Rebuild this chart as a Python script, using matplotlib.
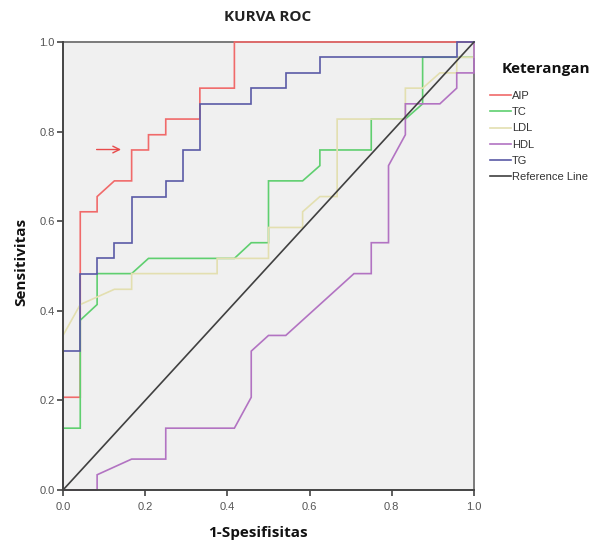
import matplotlib
matplotlib.use("Agg")
import matplotlib.pyplot as plt

# ---- data ----
aip_x = [0, 0, 0.042, 0.042, 0.083, 0.083, 0.125, 0.167, 0.167, 0.208, 0.208, 0.250, 0.250, 0.333, 0.333, 0.417, 0.417, 1.0]
aip_y = [0, 0.207, 0.207, 0.621, 0.621, 0.655, 0.690, 0.690, 0.759, 0.759, 0.793, 0.793, 0.828, 0.828, 0.897, 0.897, 1.0, 1.0]

tc_x = [0, 0, 0.042, 0.042, 0.083, 0.083, 0.167, 0.208, 0.375, 0.417, 0.458, 0.500, 0.500, 0.583, 0.625, 0.625, 0.750, 0.750, 0.833, 0.875, 0.875, 1.0, 1.0]
tc_y = [0, 0.138, 0.138, 0.379, 0.414, 0.483, 0.483, 0.517, 0.517, 0.517, 0.552, 0.552, 0.690, 0.690, 0.724, 0.759, 0.759, 0.828, 0.828, 0.862, 0.966, 0.966, 1.0]

ldl_x = [0, 0, 0.042, 0.125, 0.167, 0.167, 0.375, 0.375, 0.500, 0.500, 0.583, 0.583, 0.625, 0.667, 0.667, 0.833, 0.833, 0.875, 0.917, 0.958, 0.958, 1.0, 1.0]
ldl_y = [0, 0.345, 0.414, 0.448, 0.448, 0.483, 0.483, 0.517, 0.517, 0.586, 0.586, 0.621, 0.655, 0.655, 0.828, 0.828, 0.897, 0.897, 0.931, 0.931, 0.966, 0.966, 1.0]

hdl_x = [0, 0.083, 0.083, 0.167, 0.250, 0.250, 0.417, 0.458, 0.458, 0.500, 0.542, 0.708, 0.750, 0.750, 0.792, 0.792, 0.833, 0.833, 0.917, 0.958, 0.958, 1.0, 1.0]
hdl_y = [0, 0, 0.034, 0.069, 0.069, 0.138, 0.138, 0.207, 0.310, 0.345, 0.345, 0.483, 0.483, 0.552, 0.552, 0.724, 0.793, 0.862, 0.862, 0.897, 0.931, 0.931, 1.0]

tg_x = [0, 0, 0.042, 0.042, 0.083, 0.083, 0.125, 0.125, 0.167, 0.167, 0.250, 0.250, 0.292, 0.292, 0.333, 0.333, 0.458, 0.458, 0.542, 0.542, 0.625, 0.625, 0.958, 0.958, 1.0]
tg_y = [0, 0.310, 0.310, 0.483, 0.483, 0.517, 0.517, 0.552, 0.552, 0.655, 0.655, 0.690, 0.690, 0.759, 0.759, 0.862, 0.862, 0.897, 0.897, 0.931, 0.931, 0.966, 0.966, 1.0, 1.0]

ref_x = [0, 1]
ref_y = [0, 1]

series_names = ["AIP", "TC", "LDL", "HDL", "TG", "Reference Line"]
series_colors = ["#f06a6a", "#5fcf6f", "#e3dfb0", "#b273c2", "#5a5aa6", "#404040"]
ticks = [0.0, 0.2, 0.4, 0.6, 0.8, 1.0]
tick_labels = ["0.0", "0.2", "0.4", "0.6", "0.8", "1.0"]

arrow_y = 0.760
arrow_x0, arrow_x1 = 0.075, 0.148

# ---- figure ----
W, H = 597, 541
fig = plt.figure(figsize=(W / 100, H / 100), dpi=100)
fig.patch.set_facecolor("white")
ax = fig.add_axes([63 / W, (H - 490) / H, 411 / W, 448 / H])
ax.set_facecolor("#f0f0f0")

xs = [aip_x, tc_x, ldl_x, hdl_x, tg_x, ref_x]
ys = [aip_y, tc_y, ldl_y, hdl_y, tg_y, ref_y]
for x, y, c, n in zip(xs, ys, series_colors, series_names):
    ax.plot(x, y, color=c, lw=1.2, label=n, clip_on=False, zorder=3,
            solid_joinstyle="miter")

ax.annotate("", xy=(arrow_x1, arrow_y), xytext=(arrow_x0, arrow_y),
            arrowprops=dict(arrowstyle="->", color="#e84a4a", lw=1.0, mutation_scale=12))

ax.set_xlim(0, 1)
ax.set_ylim(0, 1)
ax.set_xticks(ticks)
ax.set_yticks(ticks)
ax.set_xticklabels(tick_labels, fontsize=8, color="#555555", family="Liberation Sans")
ax.set_yticklabels(tick_labels, fontsize=8, color="#555555", family="Liberation Sans")
ax.tick_params(axis="x", length=4, width=1.2, color="#444444", pad=5)
ax.tick_params(axis="y", length=4, width=1.2, color="#444444", pad=2)
for s in ["left", "bottom"]:
    ax.spines[s].set_color("#444444")
    ax.spines[s].set_linewidth(1.4)
    ax.spines[s].set_zorder(4)
for s in ["top", "right"]:
    ax.spines[s].set_color("#7a7a7a")
    ax.spines[s].set_linewidth(1.4)
    ax.spines[s].set_zorder(2.5)

fig.text(268 / W, 1 - 17 / H, "KURVA ROC", ha="center", va="center",
         fontsize=11, fontweight="bold", family="Open Sans", color="#222222")
fig.text(21 / W, 1 - 262 / H, "Sensitivitas", ha="center", va="center", rotation=90,
         fontsize=11, fontweight="bold", family="Open Sans", color="#111111")
fig.text(258 / W, 1 - 533 / H, "1-Spesifisitas", ha="center", va="center",
         fontsize=11, fontweight="bold", family="Open Sans", color="#111111")
fig.text(546 / W, 1 - 69 / H, "Keterangan", ha="center", va="center",
         fontsize=11, fontweight="bold", family="Open Sans", color="#111111")

handles, labels = ax.get_legend_handles_labels()
leg = fig.legend(handles, labels, loc="upper left",
                 bbox_to_anchor=(490 / W, 1 - 91 / H), frameon=False,
                 prop={"family": "Liberation Sans", "size": 8},
                 handlelength=1.9, handletextpad=0.1, labelspacing=0.56,
                 borderpad=0, borderaxespad=0)
for t in leg.get_texts():
    t.set_color("#333333")

fig.savefig("out.png", dpi=100)
